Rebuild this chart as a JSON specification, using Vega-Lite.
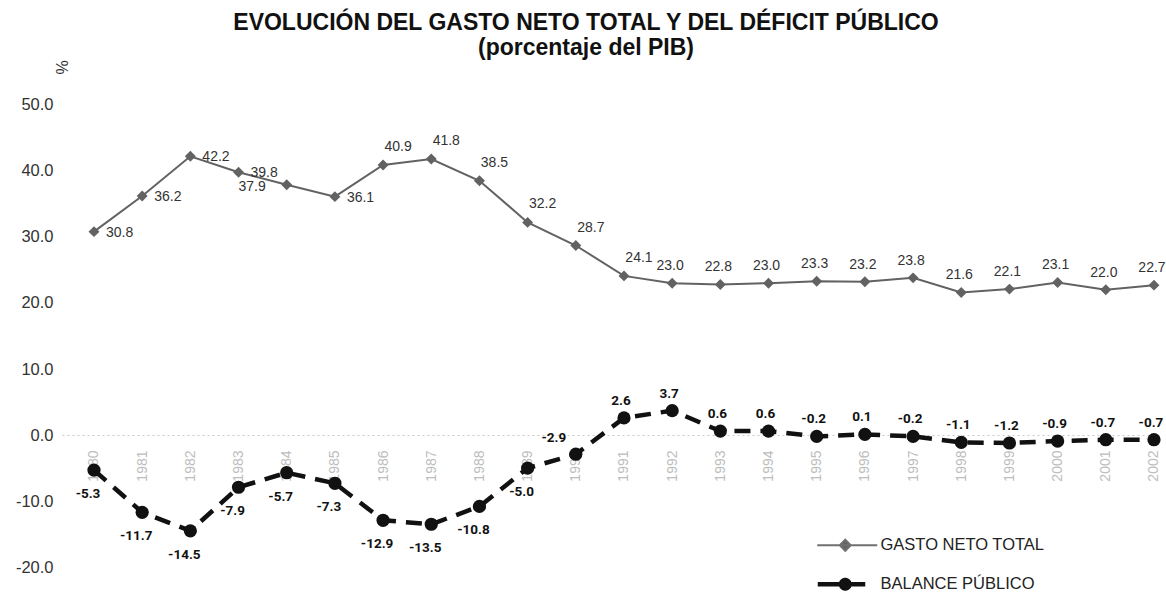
{
  "$schema": "https://vega.github.io/schema/vega-lite/v6.json",
  "width": 1098,
  "height": 502,
  "autosize": {"type": "none"},
  "padding": {"left": 62, "top": 85, "right": 6, "bottom": 11},
  "background": "white",
  "config": {
    "view": {"stroke": null},
    "font": "Liberation Sans",
    "locale": {"number": {"decimal": ".", "thousands": ",", "grouping": [3], "currency": ["$", ""], "minus": "-"}},
    "legend": {"labelFontSize": 16.5, "labelColor": "#222222", "labelFont": "Liberation Sans", "labelLimit": 400, "padding": 0, "title": null, "symbolSize": 100}
  },
  "title": {
    "text": ["EVOLUCIÓN DEL GASTO NETO TOTAL Y DEL DÉFICIT PÚBLICO", "(porcentaje del PIB)"],
    "font": "Liberation Sans",
    "fontSize": 23,
    "fontWeight": "bold",
    "color": "#111111",
    "lineHeight": 25,
    "anchor": "middle",
    "dx": -25,
    "offset": 0
  },
  "data": {"values": [
    {"year": 1980, "series": "GASTO NETO TOTAL", "value": 30.8},
    {"year": 1981, "series": "GASTO NETO TOTAL", "value": 36.2},
    {"year": 1982, "series": "GASTO NETO TOTAL", "value": 42.2},
    {"year": 1983, "series": "GASTO NETO TOTAL", "value": 39.8},
    {"year": 1984, "series": "GASTO NETO TOTAL", "value": 37.9},
    {"year": 1985, "series": "GASTO NETO TOTAL", "value": 36.1},
    {"year": 1986, "series": "GASTO NETO TOTAL", "value": 40.9},
    {"year": 1987, "series": "GASTO NETO TOTAL", "value": 41.8},
    {"year": 1988, "series": "GASTO NETO TOTAL", "value": 38.5},
    {"year": 1989, "series": "GASTO NETO TOTAL", "value": 32.2},
    {"year": 1990, "series": "GASTO NETO TOTAL", "value": 28.7},
    {"year": 1991, "series": "GASTO NETO TOTAL", "value": 24.1},
    {"year": 1992, "series": "GASTO NETO TOTAL", "value": 23.0},
    {"year": 1993, "series": "GASTO NETO TOTAL", "value": 22.8},
    {"year": 1994, "series": "GASTO NETO TOTAL", "value": 23.0},
    {"year": 1995, "series": "GASTO NETO TOTAL", "value": 23.3},
    {"year": 1996, "series": "GASTO NETO TOTAL", "value": 23.2},
    {"year": 1997, "series": "GASTO NETO TOTAL", "value": 23.8},
    {"year": 1998, "series": "GASTO NETO TOTAL", "value": 21.6},
    {"year": 1999, "series": "GASTO NETO TOTAL", "value": 22.1},
    {"year": 2000, "series": "GASTO NETO TOTAL", "value": 23.1},
    {"year": 2001, "series": "GASTO NETO TOTAL", "value": 22.0},
    {"year": 2002, "series": "GASTO NETO TOTAL", "value": 22.7},
    {"year": 1980, "series": "BALANCE PÚBLICO", "value": -5.3},
    {"year": 1981, "series": "BALANCE PÚBLICO", "value": -11.7},
    {"year": 1982, "series": "BALANCE PÚBLICO", "value": -14.5},
    {"year": 1983, "series": "BALANCE PÚBLICO", "value": -7.9},
    {"year": 1984, "series": "BALANCE PÚBLICO", "value": -5.7},
    {"year": 1985, "series": "BALANCE PÚBLICO", "value": -7.3},
    {"year": 1986, "series": "BALANCE PÚBLICO", "value": -12.9},
    {"year": 1987, "series": "BALANCE PÚBLICO", "value": -13.5},
    {"year": 1988, "series": "BALANCE PÚBLICO", "value": -10.8},
    {"year": 1989, "series": "BALANCE PÚBLICO", "value": -5.0},
    {"year": 1990, "series": "BALANCE PÚBLICO", "value": -2.9},
    {"year": 1991, "series": "BALANCE PÚBLICO", "value": 2.6},
    {"year": 1992, "series": "BALANCE PÚBLICO", "value": 3.7},
    {"year": 1993, "series": "BALANCE PÚBLICO", "value": 0.6},
    {"year": 1994, "series": "BALANCE PÚBLICO", "value": 0.6},
    {"year": 1995, "series": "BALANCE PÚBLICO", "value": -0.2},
    {"year": 1996, "series": "BALANCE PÚBLICO", "value": 0.1},
    {"year": 1997, "series": "BALANCE PÚBLICO", "value": -0.2},
    {"year": 1998, "series": "BALANCE PÚBLICO", "value": -1.1},
    {"year": 1999, "series": "BALANCE PÚBLICO", "value": -1.2},
    {"year": 2000, "series": "BALANCE PÚBLICO", "value": -0.9},
    {"year": 2001, "series": "BALANCE PÚBLICO", "value": -0.7},
    {"year": 2002, "series": "BALANCE PÚBLICO", "value": -0.7}
  ]},
  "encoding": {
    "x": {
      "field": "year", "type": "quantitative",
      "scale": {"domain": [1979.336, 2002.125], "nice": false, "zero": false},
      "axis": {
        "title": null,
        "values": [1980,1981,1982,1983,1984,1985,1986,1987,1988,1989,1990,1991,1992,1993,1994,1995,1996,1997,1998,1999,2000,2001,2002],
        "format": "d",
        "labelAngle": 270,
        "labelAlign": "right",
        "labelBaseline": "middle",
        "labelPadding": 15,
        "labelFontSize": 14,
        "labelFont": "Liberation Sans",
        "labelColor": "#bdbdbd",
        "labelOverlap": false,
        "labelFlush": false,
        "ticks": false,
        "grid": false,
        "domainColor": "#c8c8c8",
        "domainDash": [2, 3],
        "domainWidth": 1,
        "offset": -152
      }
    },
    "y": {
      "field": "value", "type": "quantitative",
      "scale": {"domain": [-23, 53], "nice": false, "zero": false},
      "axis": {
        "values": [-20, -10, 0, 10, 20, 30, 40, 50],
        "format": ".1f",
        "labelFontSize": 16.5,
        "labelColor": "#333333",
        "labelPadding": 9,
        "ticks": false,
        "domain": false,
        "grid": false,
        "title": "%",
        "titleAngle": 270,
        "titleX": 0,
        "titleY": -18,
        "titleAlign": "center",
        "titleBaseline": "middle",
        "titleFontSize": 16,
        "titleFontWeight": "normal",
        "titleColor": "#333333"
      }
    }
  },
  "layer": [
    {
      "transform": [{"filter": "datum.series === 'GASTO NETO TOTAL'"}],
      "mark": {"type": "line", "color": "#626262", "strokeWidth": 2},
      "encoding": {
        "opacity": {
          "datum": "GASTO NETO TOTAL", "type": "ordinal",
          "scale": {"domain": ["GASTO NETO TOTAL"], "range": [1, 1]},
          "legend": {
            "orient": "none", "legendX": 775, "legendY": 452,
            "symbolType": "M-5.6,0H6.4M0,-1.1L1.1,0L0,1.1L-1.1,0Z",
            "symbolStrokeColor": "#707070", "symbolFillColor": "#626262", "symbolStrokeWidth": 2,
            "labelOffset": 27
          }
        }
      }
    },
    {
      "transform": [{"filter": "datum.series === 'BALANCE PÚBLICO'"}],
      "mark": {"type": "line", "color": "#111111", "strokeDash": [16, 10]},
      "encoding": {
        "strokeWidth": {
          "datum": "BALANCE PÚBLICO", "type": "ordinal",
          "scale": {"domain": ["BALANCE PÚBLICO"], "range": [4.5, 4.5]},
          "legend": {
            "orient": "none", "legendX": 775, "legendY": 491,
            "symbolType": "M-5.5,0H4M0.85,0A0.85,0.85 0 1,1 -0.85,0A0.85,0.85 0 1,1 0.85,0Z",
            "symbolStrokeColor": "#111111", "symbolFillColor": "#111111",
            "symbolDash": [1, 0],
            "labelOffset": 27
          }
        }
      }
    },
    {
      "mark": {"type": "point", "filled": true, "opacity": 1},
      "encoding": {
        "color": {
          "field": "series", "type": "nominal",
          "scale": {"domain": ["GASTO NETO TOTAL", "BALANCE PÚBLICO"], "range": ["#626262", "#111111"]},
          "legend": null
        },
        "shape": {
          "field": "series", "type": "nominal",
          "scale": {"domain": ["GASTO NETO TOTAL", "BALANCE PÚBLICO"], "range": ["diamond", "circle"]},
          "legend": null
        },
        "size": {
          "field": "series", "type": "nominal",
          "scale": {"domain": ["GASTO NETO TOTAL", "BALANCE PÚBLICO"], "range": [120, 175]},
          "legend": null
        }
      }
    },
    {
      "transform": [{"filter": "datum.series === 'GASTO NETO TOTAL' && datum.year <= 1985 && datum.year != 1984"}],
      "mark": {"type": "text", "align": "left", "baseline": "middle", "dx": 12, "dy": 1, "fontSize": 14, "color": "#333333", "font": "Liberation Sans"},
      "encoding": {"text": {"field": "value", "type": "quantitative", "format": ".1f"}}
    },
    {
      "transform": [{"filter": "datum.series === 'GASTO NETO TOTAL' && datum.year == 1984"}],
      "mark": {"type": "text", "align": "right", "baseline": "middle", "dx": -21, "dy": 2, "fontSize": 14, "color": "#333333", "font": "Liberation Sans"},
      "encoding": {"text": {"field": "value", "type": "quantitative", "format": ".1f"}}
    },
    {
      "transform": [{"filter": "datum.series === 'GASTO NETO TOTAL' && datum.year >= 1986 && datum.year <= 1991"}],
      "mark": {"type": "text", "align": "center", "baseline": "middle", "dx": 15, "dy": -18, "fontSize": 14, "color": "#333333", "font": "Liberation Sans"},
      "encoding": {"text": {"field": "value", "type": "quantitative", "format": ".1f"}}
    },
    {
      "transform": [{"filter": "datum.series === 'GASTO NETO TOTAL' && datum.year >= 1992"}],
      "mark": {"type": "text", "align": "center", "baseline": "middle", "dx": -2, "dy": -17, "fontSize": 14, "color": "#333333", "font": "Liberation Sans"},
      "encoding": {"text": {"field": "value", "type": "quantitative", "format": ".1f"}}
    },
    {
      "transform": [{"filter": "datum.series === 'BALANCE PÚBLICO' && datum.year <= 1989"}],
      "mark": {"type": "text", "align": "center", "baseline": "middle", "dx": -6, "dy": 24, "fontSize": 13.5, "fontWeight": "bold", "color": "#111111", "font": "Roboto"},
      "encoding": {"text": {"field": "value", "type": "quantitative", "format": ".1f"}}
    },
    {
      "transform": [{"filter": "datum.series === 'BALANCE PÚBLICO' && datum.year == 1990"}],
      "mark": {"type": "text", "align": "center", "baseline": "middle", "dx": -22, "dy": -16, "fontSize": 13.5, "fontWeight": "bold", "color": "#111111", "font": "Roboto"},
      "encoding": {"text": {"field": "value", "type": "quantitative", "format": ".1f"}}
    },
    {
      "transform": [{"filter": "datum.series === 'BALANCE PÚBLICO' && datum.year >= 1991"}],
      "mark": {"type": "text", "align": "center", "baseline": "middle", "dx": -3, "dy": -17, "fontSize": 13.5, "fontWeight": "bold", "color": "#111111", "font": "Roboto"},
      "encoding": {"text": {"field": "value", "type": "quantitative", "format": ".1f"}}
    }
  ]
}
